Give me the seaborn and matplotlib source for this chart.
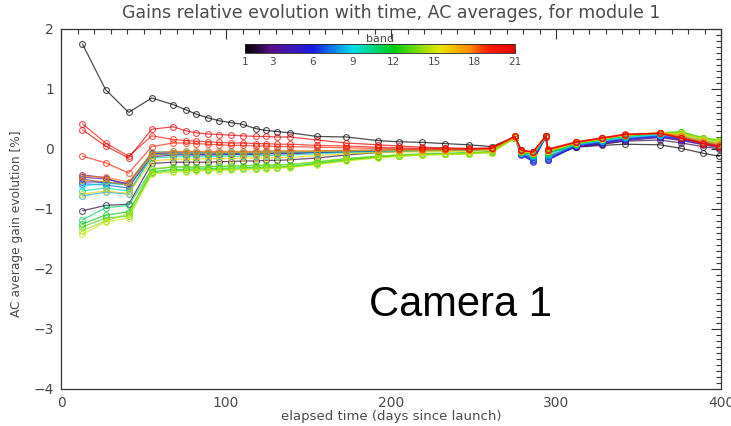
import matplotlib
matplotlib.use("Agg")
import matplotlib.pyplot as plt
import pandas as pd
import seaborn as sns
from matplotlib.colors import LinearSegmentedColormap, Normalize
from matplotlib.cm import ScalarMappable
from matplotlib.ticker import MultipleLocator

# Sampling epochs (days since launch)
days = [13, 27, 41, 55, 68, 76, 82, 89, 96, 103, 110, 118, 124, 131, 139,
        155, 173, 192, 205, 219, 233, 247, 261, 275, 279, 286, 294, 295,
        312, 328, 342, 363, 376, 389, 399]

# AC-averaged gain evolution [%] per spectral band
gain_b01 = [1.75, 0.99, 0.61, 0.85, 0.74, 0.65, 0.58, 0.52, 0.47, 0.44, 0.41, 0.34, 0.31, 0.29, 0.27,
            0.21, 0.20, 0.14, 0.12, 0.11, 0.09, 0.07, 0.04, 0.20, -0.02, -0.08, 0.20, -0.05,
            0.03, 0.06, 0.08, 0.07, 0.01, -0.07, -0.12]
gain_b02 = [-1.03, -0.94, -0.92, -0.24, -0.22, -0.22, -0.22, -0.22, -0.21, -0.21, -0.20, -0.20, -0.19, -0.19, -0.18,
            -0.15, -0.10, -0.06, -0.04, -0.03, -0.02, -0.02, -0.01, 0.19, -0.06, -0.14, 0.20, -0.12,
            0.04, 0.08, 0.13, 0.15, 0.10, 0.04, 0.00]
gain_b03 = [-0.43, -0.48, -0.62, -0.13, -0.10, -0.10, -0.10, -0.10, -0.10, -0.09, -0.09, -0.09, -0.08, -0.08, -0.08,
            -0.06, -0.05, -0.03, -0.02, -0.02, -0.02, -0.02, 0.00, 0.19, -0.08, -0.17, 0.21, -0.15,
            0.03, 0.08, 0.14, 0.19, 0.14, 0.07, 0.02]
gain_b04 = [-0.47, -0.50, -0.58, -0.10, -0.08, -0.08, -0.09, -0.09, -0.08, -0.08, -0.08, -0.08, -0.07, -0.07, -0.07,
            -0.05, -0.04, -0.03, -0.02, -0.02, -0.02, -0.01, 0.00, 0.19, -0.09, -0.19, 0.22, -0.17,
            0.04, 0.09, 0.15, 0.20, 0.15, 0.08, 0.03]
gain_b05 = [-0.55, -0.55, -0.60, -0.09, -0.07, -0.08, -0.08, -0.08, -0.08, -0.08, -0.07, -0.07, -0.07, -0.06, -0.06,
            -0.05, -0.04, -0.03, -0.02, -0.02, -0.02, -0.01, 0.00, 0.20, -0.10, -0.21, 0.22, -0.19,
            0.05, 0.10, 0.16, 0.21, 0.16, 0.10, 0.05]
gain_b06 = [-0.50, -0.57, -0.57, -0.08, -0.07, -0.07, -0.07, -0.07, -0.07, -0.07, -0.06, -0.06, -0.06, -0.06, -0.05,
            -0.05, -0.04, -0.03, -0.02, -0.02, -0.01, -0.01, 0.00, 0.20, -0.09, -0.20, 0.22, -0.18,
            0.05, 0.11, 0.17, 0.22, 0.17, 0.11, 0.06]
gain_b07 = [-0.58, -0.60, -0.65, -0.07, -0.06, -0.06, -0.06, -0.06, -0.06, -0.06, -0.06, -0.05, -0.05, -0.05, -0.05,
            -0.04, -0.03, -0.02, -0.02, -0.01, -0.01, -0.01, 0.00, 0.20, -0.08, -0.18, 0.22, -0.16,
            0.06, 0.12, 0.18, 0.22, 0.18, 0.12, 0.07]
gain_b08 = [-0.78, -0.72, -0.75, -0.10, -0.08, -0.08, -0.08, -0.08, -0.08, -0.07, -0.07, -0.07, -0.07, -0.06, -0.06,
            -0.05, -0.04, -0.03, -0.02, -0.02, -0.02, -0.01, 0.00, 0.20, -0.07, -0.15, 0.22, -0.13,
            0.07, 0.13, 0.19, 0.23, 0.20, 0.13, 0.08]
gain_b09 = [-0.62, -0.57, -0.60, -0.05, -0.04, -0.05, -0.05, -0.05, -0.05, -0.05, -0.05, -0.05, -0.04, -0.04, -0.04,
            -0.04, -0.03, -0.02, -0.02, -0.01, -0.01, -0.01, 0.00, 0.20, -0.06, -0.12, 0.22, -0.10,
            0.08, 0.14, 0.20, 0.24, 0.21, 0.14, 0.09]
gain_b10 = [-0.70, -0.65, -0.70, -0.15, -0.13, -0.13, -0.13, -0.13, -0.12, -0.12, -0.12, -0.11, -0.11, -0.11, -0.10,
            -0.08, -0.06, -0.05, -0.04, -0.03, -0.03, -0.02, -0.01, 0.20, -0.05, -0.10, 0.22, -0.08,
            0.08, 0.15, 0.21, 0.25, 0.23, 0.15, 0.10]
gain_b11 = [-1.18, -0.98, -0.94, -0.34, -0.30, -0.30, -0.30, -0.30, -0.29, -0.29, -0.28, -0.28, -0.27, -0.27, -0.26,
            -0.22, -0.16, -0.12, -0.10, -0.08, -0.07, -0.06, -0.04, 0.19, -0.05, -0.09, 0.21, -0.06,
            0.09, 0.16, 0.22, 0.26, 0.26, 0.17, 0.13]
gain_b12 = [-1.25, -1.10, -1.05, -0.38, -0.34, -0.34, -0.33, -0.33, -0.32, -0.32, -0.31, -0.31, -0.30, -0.30, -0.29,
            -0.24, -0.18, -0.13, -0.11, -0.09, -0.08, -0.07, -0.05, 0.19, -0.05, -0.08, 0.21, -0.05,
            0.09, 0.16, 0.22, 0.27, 0.28, 0.18, 0.14]
gain_b13 = [-1.30, -1.15, -1.12, -0.40, -0.36, -0.36, -0.35, -0.35, -0.34, -0.34, -0.33, -0.33, -0.32, -0.31, -0.30,
            -0.25, -0.19, -0.14, -0.12, -0.10, -0.09, -0.08, -0.06, 0.18, -0.05, -0.08, 0.21, -0.05,
            0.09, 0.16, 0.22, 0.27, 0.29, 0.19, 0.15]
gain_b14 = [-1.36, -1.20, -1.08, -0.33, -0.30, -0.30, -0.30, -0.29, -0.29, -0.28, -0.28, -0.27, -0.27, -0.26, -0.26,
            -0.21, -0.16, -0.12, -0.10, -0.09, -0.08, -0.07, -0.05, 0.19, -0.04, -0.07, 0.21, -0.04,
            0.10, 0.17, 0.23, 0.27, 0.27, 0.18, 0.14]
gain_b15 = [-1.42, -1.22, -1.15, -0.42, -0.38, -0.38, -0.37, -0.36, -0.36, -0.35, -0.34, -0.34, -0.33, -0.32, -0.31,
            -0.26, -0.20, -0.15, -0.12, -0.10, -0.09, -0.08, -0.06, 0.18, -0.04, -0.07, 0.21, -0.04,
            0.10, 0.17, 0.23, 0.27, 0.26, 0.17, 0.13]
gain_b16 = [-0.75, -0.70, -0.74, -0.20, -0.17, -0.17, -0.17, -0.16, -0.16, -0.16, -0.15, -0.15, -0.15, -0.14, -0.14,
            -0.11, -0.08, -0.06, -0.05, -0.05, -0.04, -0.04, -0.02, 0.20, -0.04, -0.07, 0.22, -0.03,
            0.10, 0.17, 0.23, 0.27, 0.24, 0.15, 0.10]
gain_b17 = [-0.52, -0.54, -0.60, -0.10, -0.07, -0.07, -0.07, -0.07, -0.06, -0.06, -0.06, -0.06, -0.06, -0.05, -0.05,
            -0.04, -0.03, -0.02, -0.02, -0.02, -0.02, -0.01, 0.00, 0.20, -0.03, -0.06, 0.22, -0.02,
            0.11, 0.18, 0.24, 0.27, 0.22, 0.13, 0.08]
gain_b18 = [-0.45, -0.47, -0.55, -0.06, -0.04, -0.04, -0.04, -0.04, -0.04, -0.04, -0.04, -0.04, -0.03, -0.03, -0.03,
            -0.03, -0.02, -0.02, -0.01, -0.01, -0.01, -0.01, 0.00, 0.20, -0.03, -0.05, 0.22, -0.02,
            0.11, 0.18, 0.24, 0.27, 0.21, 0.12, 0.07]
gain_b19 = [-0.12, -0.23, -0.40, 0.04, 0.10, 0.10, 0.09, 0.08, 0.07, 0.06, 0.06, 0.05, 0.05, 0.04, 0.04,
            0.03, 0.02, 0.01, 0.00, 0.00, 0.00, 0.00, 0.01, 0.21, -0.02, -0.05, 0.22, -0.01,
            0.11, 0.18, 0.24, 0.26, 0.19, 0.10, 0.05]
gain_b20 = [0.42, 0.10, -0.12, 0.22, 0.16, 0.14, 0.13, 0.12, 0.11, 0.10, 0.10, 0.09, 0.09, 0.08, 0.08,
            0.06, 0.05, 0.03, 0.02, 0.01, 0.01, 0.00, 0.01, 0.21, -0.02, -0.05, 0.22, -0.01,
            0.11, 0.18, 0.24, 0.26, 0.18, 0.09, 0.04]
gain_b21 = [0.32, 0.05, -0.15, 0.33, 0.37, 0.30, 0.27, 0.25, 0.24, 0.23, 0.22, 0.21, 0.21, 0.20, 0.20,
            0.15, 0.10, 0.07, 0.05, 0.03, 0.02, 0.01, 0.02, 0.21, -0.02, -0.05, 0.22, 0.00,
            0.12, 0.19, 0.25, 0.26, 0.18, 0.09, 0.04]

band_ticks = [1, 3, 6, 9, 12, 15, 18, 21]

title = "Gains relative evolution with time, AC averages, for module 1"
x_label = "elapsed time (days since launch)"
y_label = "AC average gain evolution [%]"
camera_label = "Camera 1"

bands = list(range(1, 22))
series = [gain_b01, gain_b02, gain_b03, gain_b04, gain_b05, gain_b06, gain_b07,
          gain_b08, gain_b09, gain_b10, gain_b11, gain_b12, gain_b13, gain_b14,
          gain_b15, gain_b16, gain_b17, gain_b18, gain_b19, gain_b20, gain_b21]

df = pd.concat(
    [pd.DataFrame({"day": days, "gain": g, "band": b}) for b, g in zip(bands, series)],
    ignore_index=True,
)

sns.set_theme(style="white")
plt.rcParams["font.family"] = ["DejaVu Sans"]

text_col = "#4a4a4a"

# Rainbow table running black -> purple -> blue -> cyan -> green -> yellow -> red
cmap = LinearSegmentedColormap.from_list(
    "band_rainbow",
    [(0.00, "#000000"), (0.10, "#5a0f8c"), (0.25, "#1a1ae6"), (0.40, "#00e0ea"),
     (0.55, "#00cc10"), (0.72, "#e8e800"), (0.83, "#ff8c00"), (0.90, "#ff2000"),
     (1.00, "#e80000")],
)
norm = Normalize(1, 21)
palette = {b: cmap(norm(b)) for b in bands}

fig = plt.figure(figsize=(7.31, 4.26), dpi=100)
ax = fig.add_axes([61 / 731, 1 - 389 / 426, 660 / 731, 360 / 426])

sns.lineplot(data=df, x="day", y="gain", hue="band", palette=palette,
             estimator=None, sort=False, marker="o", markersize=4.2,
             linewidth=0.9, legend=False, ax=ax)
for line in ax.get_lines():
    c = line.get_color()
    line.set_markeredgecolor(c)
    line.set_markerfacecolor("none")
    line.set_markeredgewidth(0.8)
    line.set_alpha(0.7)

ax.set_xlim(0, 400)
ax.set_ylim(-4, 2)
ax.xaxis.set_major_locator(MultipleLocator(100))
ax.xaxis.set_minor_locator(MultipleLocator(10))
ax.yaxis.set_major_locator(MultipleLocator(1))
ax.yaxis.set_minor_locator(MultipleLocator(0.1))
ax.tick_params(which="both", direction="in", top=True, right=True,
               color="#333333", width=0.8)
ax.tick_params(which="major", length=7, labelsize=10, labelcolor=text_col, pad=5)
ax.tick_params(which="minor", length=3.5)
for s in ax.spines.values():
    s.set_color("#333333")
    s.set_linewidth(0.9)

ax.set_title(title, fontsize=12.5, color=text_col, pad=8)
ax.set_xlabel(x_label, fontsize=9.5, color=text_col, labelpad=0)
ax.set_ylabel(y_label, fontsize=8.8, color=text_col)
ax.yaxis.set_label_coords(-0.058, 0.46)

ax.text(242, -2.6, camera_label, fontsize=30, family=["Liberation Sans", "DejaVu Sans"],
        ha="center", va="center", color="black")

cax = fig.add_axes([245 / 731, 1 - 53 / 426, 270 / 731, 9 / 426])
cb = fig.colorbar(ScalarMappable(norm=norm, cmap=cmap), cax=cax,
                  orientation="horizontal", ticks=band_ticks)
cb.ax.tick_params(labelsize=7.5, labelcolor=text_col, direction="in",
                  length=3, width=0.6, pad=3, color="#333333")
cb.outline.set_linewidth(0.6)
cax.set_title("band", fontsize=8, color=text_col, pad=1)

fig.savefig("out.png", dpi=100)
